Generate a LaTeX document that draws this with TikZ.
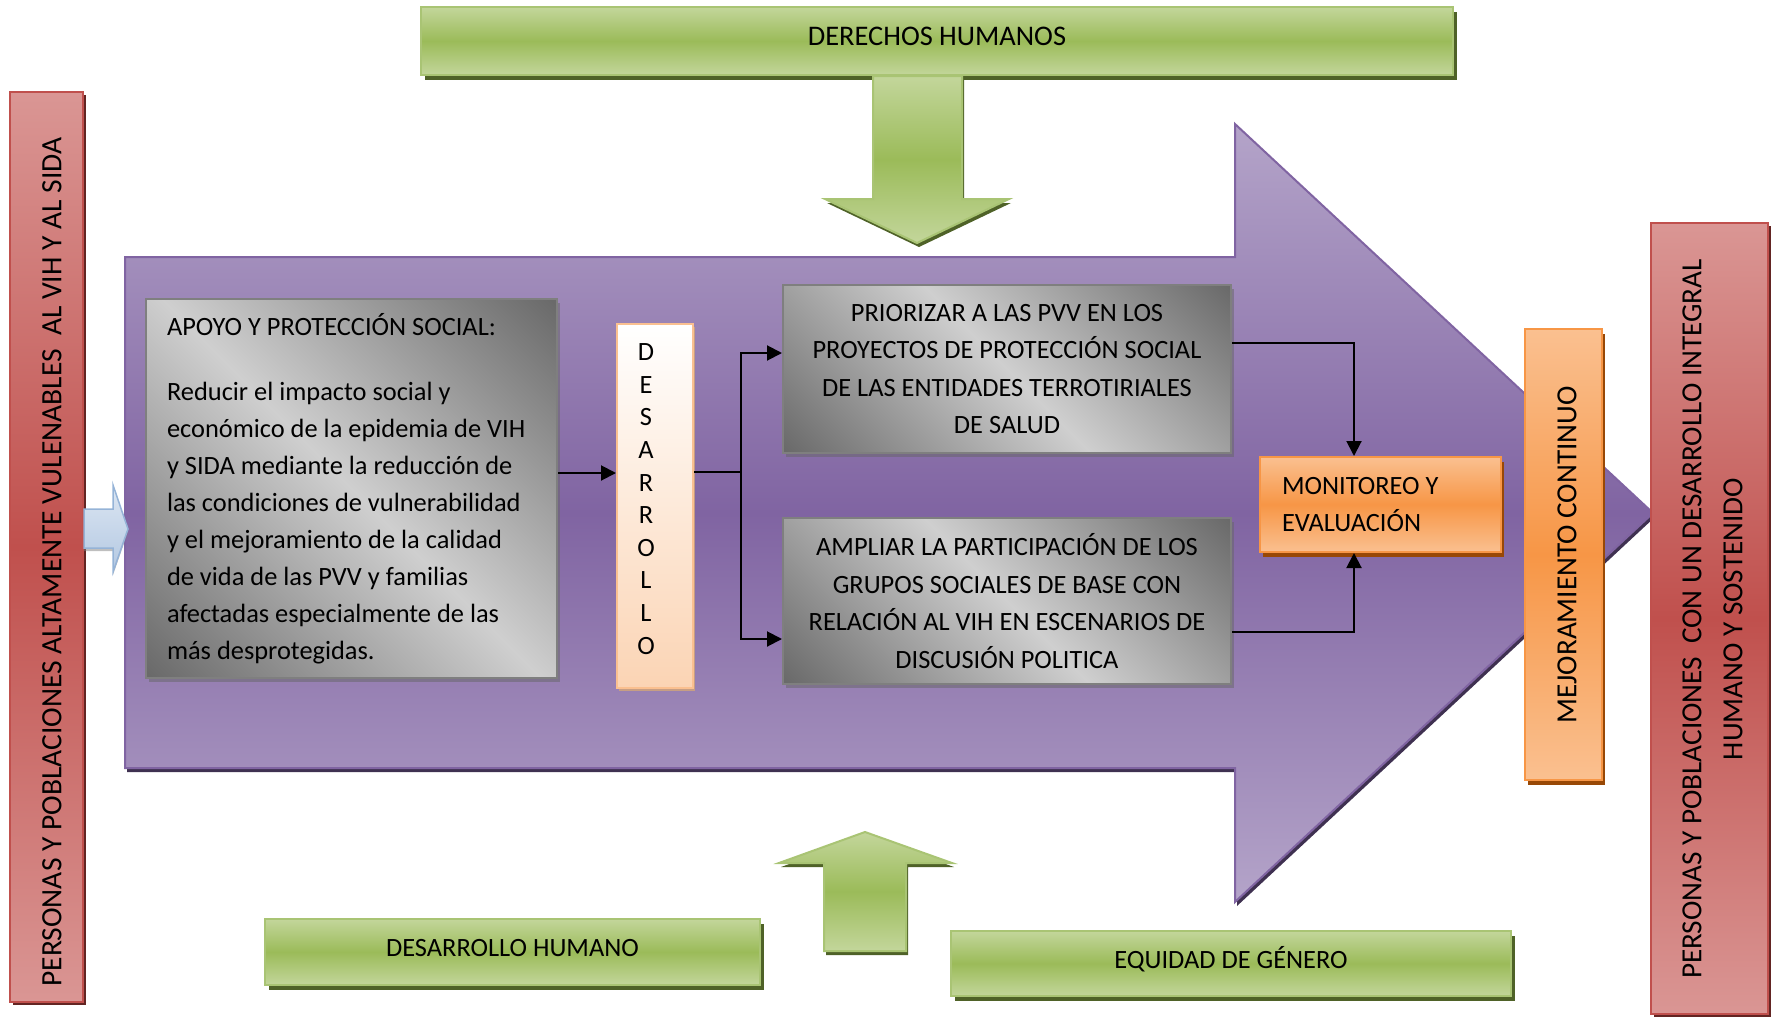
\documentclass[tikz,border=0pt]{standalone}
\usepackage{fontspec}
\setmainfont{Carlito}
\usetikzlibrary{shadows,arrows.meta}

\definecolor{grnL}{HTML}{C3D69B}
\definecolor{grnM}{HTML}{9BBB59}
\definecolor{grnB}{HTML}{A9C474}
\definecolor{grnS}{HTML}{4F6228}
\definecolor{redL}{HTML}{DA9694}
\definecolor{redM}{HTML}{C0504D}
\definecolor{redS}{HTML}{632523}
\definecolor{purL}{HTML}{B4A4C9}
\definecolor{purM}{HTML}{8064A2}
\definecolor{purS}{HTML}{3F3151}
\definecolor{orgL}{HTML}{FAC090}
\definecolor{orgM}{HTML}{F79646}
\definecolor{orgS}{HTML}{984806}
\definecolor{gryD}{HTML}{6A6A6A}
\definecolor{gryL}{HTML}{CFCFCF}
\definecolor{gryB}{HTML}{7F7F7F}
\definecolor{bluL}{HTML}{DCE6F2}
\definecolor{bluM}{HTML}{B3C8E2}
\definecolor{bluB}{HTML}{95B3D7}
\definecolor{desB}{HTML}{FBD4B4}

% light band across the middle, dark towards both ends
\pgfdeclareverticalshading{grayband}{100bp}{color(0bp)=(gryD); color(15bp)=(gryD);
  color(50bp)=(gryL); color(85bp)=(gryD); color(100bp)=(gryD)}

\begin{document}
\begin{tikzpicture}[x=0.5pt, y=-0.5pt,
  every node/.style={font=\fontsize{13.2}{18.5}\selectfont, text=black, inner sep=0pt},
  greenbox/.style={draw=grnB, line width=1pt, top color=grnL, bottom color=grnL, middle color=grnM,
    text height=8.5pt, text depth=4pt,
    drop shadow={shadow xshift=2pt, shadow yshift=-2.5pt, fill=grnS, opacity=1}},
  greenarrow/.style={draw=grnB, line width=1pt, top color=grnL, bottom color=grnL, middle color=grnM,
    drop shadow={shadow xshift=1pt, shadow yshift=-2pt, fill=grnS, opacity=1}},
  redbox/.style={draw=redM, line width=1pt, top color=redL, bottom color=redL, middle color=redM,
    drop shadow={shadow xshift=1.5pt, shadow yshift=-1.5pt, fill=redS, opacity=1}},
  orangebox/.style={draw=orgM, line width=1pt, top color=orgL, bottom color=orgL, middle color=orgM,
    drop shadow={shadow xshift=1.5pt, shadow yshift=-2.5pt, fill=orgS, opacity=1}},
  graybox/.style={draw=gryB, line width=1pt, shade, shading=grayband, shading angle=-45,
    drop shadow={shadow xshift=1.5pt, shadow yshift=-2pt, fill=black!60, opacity=0.5}},
  desbox/.style={draw=orgL, line width=1pt, top color=white, bottom color=desB,
    drop shadow={shadow xshift=1pt, shadow yshift=-1.5pt, fill=brown!70, opacity=0.8}},
  purplearrow/.style={draw=purM, line width=1pt, top color=purL, bottom color=purL, middle color=purM,
    drop shadow={shadow xshift=1pt, shadow yshift=-2pt, fill=purS, opacity=1}},
  bluearrow/.style={draw=bluB, line width=0.75pt, top color=bluL, bottom color=bluM,
    drop shadow={shadow xshift=0pt, shadow yshift=-1.5pt, fill=gray, opacity=0.5}},
  conn/.style={draw=black, line width=1pt},
  arr/.style={conn, -{Triangle[length=7.5pt, width=7.5pt]}},
  boxtext/.style={font=\fontsize{13.2}{18.8}\selectfont},
  vtext/.style={rotate=90, font=\fontsize{14.6}{20.5}\selectfont}
]
\useasboundingbox (0,0) rectangle (1773,1017);

% main process arrow
\path[purplearrow] (125,257) -- (1235,257) -- (1235,124) -- (1653,513)
  -- (1235,902) -- (1235,768) -- (125,768) -- cycle;

% context boxes and their block arrows
\node[greenbox, minimum width=516pt, minimum height=34pt, font=\fontsize{14.2}{18}\selectfont]
  (dh) at (937,41) {DERECHOS HUMANOS};
\path[greenarrow] (873,76) -- (962,76) -- (962,199) -- (1009,199) -- (917,243)
  -- (825,199) -- (873,199) -- cycle;

\node[greenbox, minimum width=247.5pt, minimum height=33pt] (dhum) at (512.5,952) {DESARROLLO HUMANO};
\node[greenbox, minimum width=280pt, minimum height=32.5pt] (eq) at (1231,963.5) {EQUIDAD DE GÉNERO};
\path[greenarrow] (824,951) -- (824,863) -- (779,863) -- (865,832) -- (952,863)
  -- (906,863) -- (906,951) -- cycle;

% input population
\node[redbox, minimum width=36.5pt, minimum height=455pt] (inpop) at (46.5,547) {};
\node[vtext, font=\fontsize{14.75}{20.5}\selectfont] (inpoptxt) at (52,562)
  {PERSONAS Y POBLACIONES ALTAMENTE VULENABLES\ \ AL VIH Y AL SIDA};
\path[bluearrow] (84,509) -- (113,509) -- (113,485) -- (128,529) -- (113,572)
  -- (113,548) -- (84,548) -- cycle;

% output population
\node[redbox, minimum width=58.5pt, minimum height=395.5pt] (outpop) at (1709.5,618.5) {};
\node[vtext, align=center] (outpoptxt) at (1712.5,619)
  {PERSONAS Y POBLACIONES\ \ CON UN DESARROLLO INTEGRAL\\HUMANO Y SOSTENIDO};

% continuous improvement
\node[orangebox, minimum width=38.5pt, minimum height=225.5pt] (mej) at (1563.5,554.5) {};
\node[vtext] (mejtxt) at (1567,555) {MEJORAMIENTO CONTINUO};

% process contents
\node[graybox, minimum width=205.5pt, minimum height=189.5pt, text width=184.5pt,
  inner xsep=10.5pt, align=flush left] (apoyo) at (351.5,488.5)
  {APOYO Y PROTECCIÓN SOCIAL:\\[14pt]Reducir el impacto social y\\económico de la epidemia de VIH\\y SIDA mediante la reducción de\\las condiciones de vulnerabilidad\\y el mejoramiento de la calidad\\de vida de las PVV y familias\\afectadas especialmente de las\\más desprotegidas.};

\node[desbox, minimum width=38pt, minimum height=182pt] (des) at (655,506) {};
\node[align=center, font=\fontsize{13.2}{16.3}\selectfont] (destxt) at (646,499)
  {D\\E\\S\\A\\R\\R\\O\\L\\L\\O};

\node[graybox, boxtext, minimum width=224pt, minimum height=84pt, align=center]
  (prio) at (1007,369)
  {PRIORIZAR A LAS PVV EN LOS\\PROYECTOS DE PROTECCIÓN SOCIAL\\DE LAS ENTIDADES TERROTIRIALES\\DE SALUD};
\node[graybox, boxtext, minimum width=224pt, minimum height=83pt, align=center]
  (amp) at (1007,601)
  {AMPLIAR LA PARTICIPACIÓN DE LOS\\GRUPOS SOCIALES DE BASE CON\\RELACIÓN AL VIH EN ESCENARIOS DE\\DISCUSIÓN POLITICA};

\node[orangebox, minimum width=120.5pt, minimum height=47.5pt, text width=98.5pt,
  inner xsep=11pt, align=flush left] (mon) at (1380.5,504.5) {MONITOREO Y\\EVALUACIÓN};

% connectors
\coordinate (br) at (741,472);
\draw[arr] (apoyo.east |- 0,473) -- (des.west |- 0,473);
\draw[conn] (des.east |- br) -- (br);
\draw[arr] (br) |- (prio.west |- 0,353);
\draw[arr] (br) |- (amp.west |- 0,639);
\draw[arr] (prio.east |- 0,343) -| (1354,0 |- mon.north);
\draw[arr] (amp.east |- 0,632) -| (1354,0 |- mon.south);
\end{tikzpicture}
\end{document}
